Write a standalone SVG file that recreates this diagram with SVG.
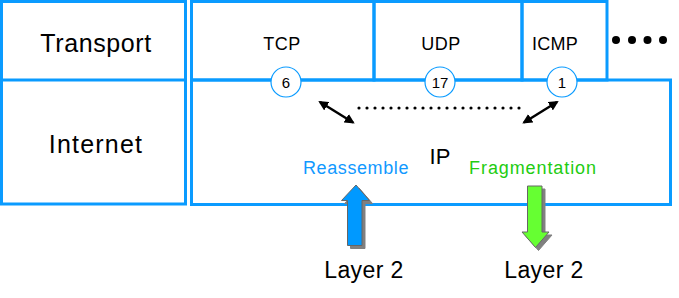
<svg xmlns="http://www.w3.org/2000/svg" width="679" height="298" viewBox="0 0 679 298">
<defs>
<style>
.box{fill:none;stroke:#0A9BFF;stroke-width:3}
.t{font-family:"Liberation Sans",Arial,sans-serif;fill:#000;text-anchor:middle}
.c{fill:#fff;stroke:#0A9BFF;stroke-width:1.2}
.ct{font-family:"Liberation Sans",Arial,sans-serif;font-size:15px;fill:#000;text-anchor:middle}
.dbl{stroke:#000;stroke-width:2.5;fill:none;marker-start:url(#ah);marker-end:url(#ah)}
</style>
<marker id="ah" viewBox="0 0 10 10" refX="8" refY="5" markerWidth="4" markerHeight="4" orient="auto-start-reverse" markerUnits="strokeWidth">
<path d="M0,0 L10,5 L0,10 z" fill="#000"/>
</marker>
<filter id="sh" x="-20%" y="-20%" width="150%" height="150%">
<feOffset dx="3" dy="3" in="SourceAlpha" result="o"/>
<feFlood flood-color="#808080"/>
<feComposite in2="o" operator="in"/>
<feMerge><feMergeNode/><feMergeNode in="SourceGraphic"/></feMerge>
</filter>
</defs>
<rect width="679" height="298" fill="#fff"/>
<g id="left-column">
<rect class="box" x="1.5" y="1.5" width="184" height="202.5"/>
<line class="box" x1="1.5" y1="80" x2="185.5" y2="80"/>
<text class="t" x="96" y="52" font-size="25" letter-spacing="0.6">Transport</text>
<text class="t" x="96" y="153" font-size="25" letter-spacing="1.2">Internet</text>
</g>
<g id="internet-layer">
<rect class="box" x="191.5" y="80" width="479" height="124.5"/>
<text class="t" x="440" y="164" font-size="22">IP</text>
<text x="356" y="174" font-family="Liberation Sans,Arial,sans-serif" font-size="18" letter-spacing="0.6" fill="#1199FF" text-anchor="middle">Reassemble</text>
<text x="533" y="174" font-family="Liberation Sans,Arial,sans-serif" font-size="18" letter-spacing="0.9" fill="#22CC11" text-anchor="middle">Fragmentation</text>
</g>
<g id="tcp">
<rect class="box" x="191.5" y="1.5" width="182.5" height="78.5"/>
<text class="t" x="282" y="50" font-size="18" letter-spacing="0.5">TCP</text>
</g>
<g id="udp">
<rect class="box" x="374" y="1.5" width="148" height="78.5"/>
<text class="t" x="441" y="50" font-size="18" letter-spacing="0.5">UDP</text>
</g>
<g id="icmp">
<rect class="box" x="522" y="1.5" width="85" height="78.5"/>
<text class="t" x="555" y="50" font-size="18" letter-spacing="0.3">ICMP</text>
</g>
<g id="more">
<circle cx="616" cy="40" r="4"/>
<circle cx="632" cy="40" r="4"/>
<circle cx="647.5" cy="40" r="4"/>
<circle cx="663" cy="40" r="4"/>
</g>
<g id="proto-numbers">
<circle class="c" cx="286" cy="82" r="15"/>
<text class="ct" x="286" y="88">6</text>
<circle class="c" cx="440" cy="82" r="15"/>
<text class="ct" x="440" y="88">17</text>
<circle class="c" cx="562" cy="82" r="15"/>
<text class="ct" x="562" y="88">1</text>
</g>
<g id="connectors">
<line class="dbl" x1="320" y1="102" x2="353" y2="122.5"/>
<line class="dbl" x1="524" y1="122.5" x2="557" y2="102"/>
<line x1="359" y1="108" x2="520" y2="108" stroke="#000" stroke-width="3.2" stroke-linecap="round" stroke-dasharray="0 8"/>
<path filter="url(#sh)" d="M356,185 L369.5,200.5 L362,200.5 L362,245.5 L347.5,245.5 L347.5,200.5 L341.5,200.5 Z" fill="#0099FF" stroke="#666" stroke-width="1"/>
<path filter="url(#sh)" d="M527.5,186 L542,186 L542,232 L549,232 L535.5,247.5 L522,232 L527.5,232 Z" fill="#66FF33" stroke="#666" stroke-width="1"/>
</g>
<g id="labels">
<text class="t" x="364" y="278" font-size="23" letter-spacing="0.4">Layer 2</text>
<text class="t" x="544" y="278" font-size="23" letter-spacing="0.4">Layer 2</text>
</g>
</svg>
